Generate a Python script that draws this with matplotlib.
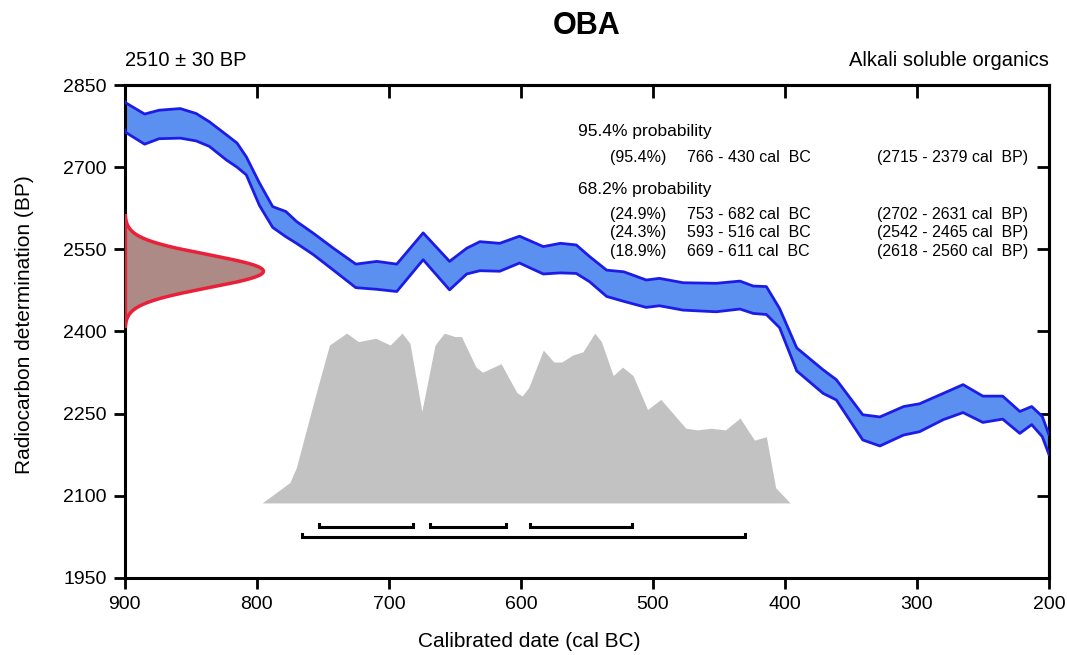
import numpy as np
import matplotlib
matplotlib.use('Agg')
from matplotlib import pyplot as plt

plt.rcParams['font.family'] = ['Liberation Sans', 'DejaVu Sans']

# calibration curve band (cal BC, upper / lower BP)
cal_years = [900, 899, 885, 874, 858, 846, 836, 823, 815, 808, 798, 788, 778, 770,
             757, 742, 725, 709, 694, 674, 654, 641, 631, 616, 601, 583, 570, 558,
             548, 535, 522, 505, 495, 477, 452, 434, 424, 414, 404, 391, 371, 361,
             341, 328, 310, 298, 280, 265, 250, 235, 222, 213, 205, 200]
cal_upper = [2820, 2817, 2797, 2804, 2807, 2798, 2783, 2759, 2744, 2719, 2671, 2628,
             2619, 2601, 2579, 2552, 2523, 2528, 2523, 2580, 2528, 2552, 2564, 2561,
             2574, 2555, 2561, 2558, 2537, 2512, 2509, 2494, 2497, 2489, 2488, 2492,
             2483, 2482, 2442, 2370, 2330, 2312, 2248, 2244, 2263, 2268, 2287, 2303,
             2282, 2282, 2254, 2263, 2245, 2212]
cal_lower = [2768, 2763, 2742, 2752, 2753, 2748, 2738, 2713, 2700, 2686, 2630, 2590,
             2573, 2561, 2540, 2512, 2480, 2477, 2473, 2531, 2476, 2505, 2511, 2510,
             2525, 2505, 2507, 2506, 2491, 2464, 2455, 2444, 2447, 2439, 2436, 2441,
             2433, 2431, 2407, 2328, 2287, 2275, 2202, 2191, 2211, 2217, 2239, 2252,
             2234, 2240, 2214, 2230, 2208, 2176]

# posterior probability (relative height)
post_years = [796, 775, 770, 756, 745, 732, 723, 710, 699, 690, 684, 675, 665, 658, 650,
              645, 634, 629, 615, 603, 599, 594, 583, 575, 569, 561, 553, 544, 539,
              530, 523, 515, 504, 494, 475, 466, 456, 445, 434, 423, 414, 407, 396]
post_prob = [0.0, 0.12, 0.21, 0.62, 0.93, 1.0, 0.95, 0.97, 0.93, 1.0, 0.94, 0.54, 0.93,
             1.0, 0.98, 0.98, 0.80, 0.77, 0.82, 0.65, 0.63, 0.68, 0.90, 0.83, 0.83,
             0.87, 0.89, 1.0, 0.95, 0.75, 0.80, 0.75, 0.55, 0.61, 0.44, 0.43, 0.44,
             0.43, 0.50, 0.37, 0.39, 0.09, 0.0]

bp_mean = 2510
bp_err = 30

ranges_68 = [(753, 682), (669, 611), (593, 516)]
ranges_95 = [(766, 430)]

xticks = [900, 800, 700, 600, 500, 400, 300, 200]
yticks = [1950, 2100, 2250, 2400, 2550, 2700, 2850]

fig = plt.figure(figsize=(10.67, 6.55), dpi=100)
ax = fig.add_axes([0.117, 0.1176, 0.866, 0.7526])

# calibration curve
ax.fill_between(cal_years, cal_lower, cal_upper, color='#5b8ff0', lw=0, zorder=2)
ax.plot(cal_years, cal_upper, color='#1c1ce6', lw=2, zorder=3)
ax.plot(cal_years, cal_lower, color='#1c1ce6', lw=2, zorder=3)

# radiocarbon measurement gaussian
yy = np.linspace(bp_mean - 100, bp_mean + 100, 300)
gx = 900 - 105 * np.exp(-(yy - bp_mean) ** 2 / (2 * bp_err ** 2))
ax.fill_betweenx(yy, 900, gx, color='#ad8a86', lw=0, zorder=2)
ax.plot(gx, yy, color='#e8203a', lw=2.5, zorder=3)
ax.plot([900, 900], [yy[0], yy[-1]], color='#e8203a', lw=3, zorder=3)

# calibrated distribution
base = 2087
scale = 310
ax.fill_between(post_years, base, base + np.array(post_prob) * scale,
                color='#c2c2c2', lw=0, zorder=1)

# range brackets
def bracket(x0, x1, y):
    ax.plot([x0, x0, x1, x1], [y + 6, y, y, y + 6], color='black', lw=2.2,
            solid_joinstyle='miter', zorder=3)

for a, b in ranges_68:
    bracket(a, b, 2043)
for a, b in ranges_95:
    bracket(a, b, 2025)

ax.set_xlim(900, 200)
ax.set_ylim(1950, 2850)
ax.set_xticks(xticks)
ax.set_yticks(yticks)
ax.tick_params(direction='out', length=8, width=2, labelsize=14, pad=5)
for s in ax.spines.values():
    s.set_linewidth(2.2)

top = ax.secondary_xaxis('top')
top.set_xticks(xticks[1:-1])
top.tick_params(direction='in', length=9, width=2, labeltop=False)
top.spines['top'].set_linewidth(2.2)
right = ax.secondary_yaxis('right')
right.set_yticks(yticks[1:-1])
right.tick_params(direction='in', length=9, width=2, labelright=False)
right.spines['right'].set_linewidth(2.2)

ax.set_xlabel('Calibrated date (cal BC)', fontsize=15)
ax.set_ylabel('Radiocarbon determination (BP)', fontsize=15)
ax.xaxis.set_label_coords(0.438, -0.11)
ax.yaxis.set_label_coords(-0.098, 0.513)

ax.text(0.5, 1.12, 'OBA', transform=ax.transAxes, fontsize=22, fontweight='bold',
        ha='center', va='center')
ax.text(0.0, 1.05, '2510 \u00b1 30 BP', transform=ax.transAxes, fontsize=14.5,
        ha='left', va='center')
ax.text(1.0, 1.05, 'Alkali soluble organics', transform=ax.transAxes, fontsize=14.5,
        ha='right', va='center')

# probability text
fs = 11.5
ax.text(0.490, 0.905, '95.4% probability', transform=ax.transAxes, fontsize=12.5, va='center')
ax.text(0.525, 0.852, '(95.4%)', transform=ax.transAxes, fontsize=fs, va='center')
ax.text(0.608, 0.852, '766 - 430 cal  BC', transform=ax.transAxes, fontsize=fs, va='center')
ax.text(0.814, 0.852, '(2715 - 2379 cal  BP)', transform=ax.transAxes, fontsize=fs, va='center')
ax.text(0.490, 0.789, '68.2% probability', transform=ax.transAxes, fontsize=12.5, va='center')
rows = [('(24.9%)', '753 - 682 cal  BC', '(2702 - 2631 cal  BP)'),
        ('(24.3%)', '593 - 516 cal  BC', '(2542 - 2465 cal  BP)'),
        ('(18.9%)', '669 - 611 cal  BC', '(2618 - 2560 cal  BP)')]
for (p, bc, bp), yf in zip(rows, [0.738, 0.701, 0.663]):
    ax.text(0.525, yf, p, transform=ax.transAxes, fontsize=fs, va='center')
    ax.text(0.608, yf, bc, transform=ax.transAxes, fontsize=fs, va='center')
    ax.text(0.814, yf, bp, transform=ax.transAxes, fontsize=fs, va='center')

fig.savefig('out.png', dpi=100)
